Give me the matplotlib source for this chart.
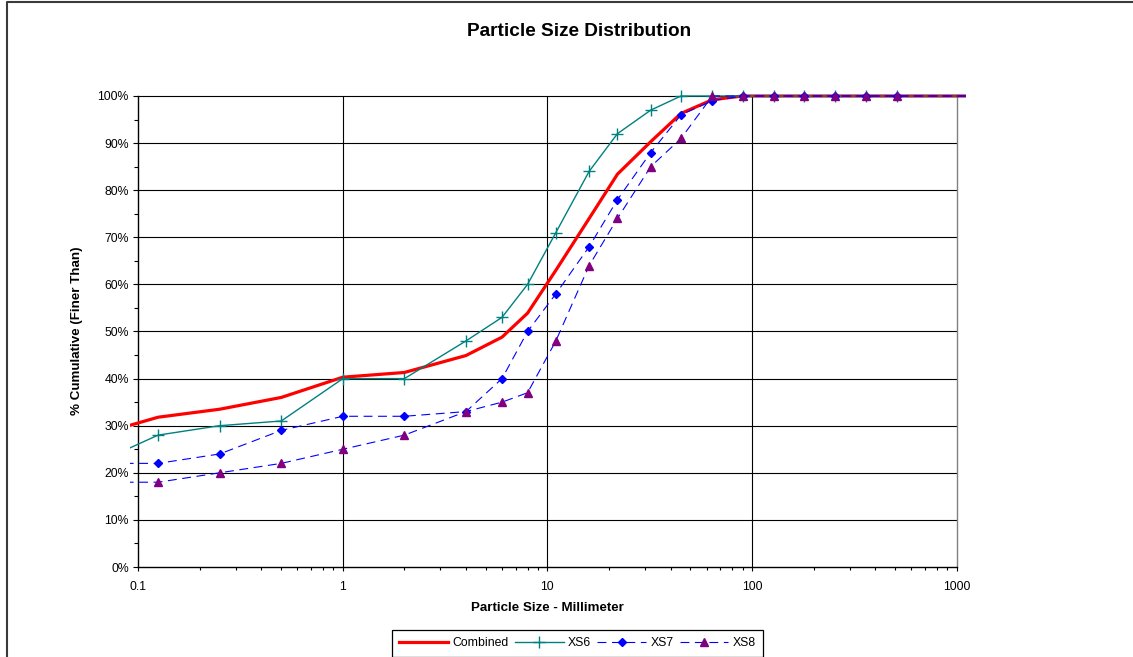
"""
Particle size distribution - cumulative % finer than, per cross-section
and the combined gradation, on a log sieve-size axis.
"""

import numpy as np
import matplotlib
matplotlib.use("Agg")
import matplotlib.pyplot as plt
import matplotlib.ticker as mtick
from matplotlib.lines import Line2D

# --- data ------------------------------------------------------------------
sizes_mm = [0.062, 0.125, 0.25, 0.5, 1, 2, 4, 6, 8, 11, 16, 22, 32, 45,
            64, 90, 128, 180, 256, 362, 512, 2048]

combined = [28, 31.8, 33.5, 36, 40.3, 41.3, 44.9, 48.8, 53.9, 63, 74, 83.4,
            90.3, 96.3, 99.2, 100, 100, 100, 100, 100, 100, 100]
xs6 = [22, 28, 30, 31, 40, 40, 48, 53, 60, 71, 84, 92, 97, 100,
       100, 100, 100, 100, 100, 100, 100, 100]
xs7 = [22, 22, 24, 29, 32, 32, 33, 40, 50, 58, 68, 78, 88, 96,
       99, 100, 100, 100, 100, 100, 100, 100]
xs8 = [18, 18, 20, 22, 25, 28, 33, 35, 37, 48, 64, 74, 85, 91,
       100, 100, 100, 100, 100, 100, 100, 100]

decades = [0.1, 1, 10, 100, 1000]
decade_labels = ["0.1", "1", "10", "100", "1000"]
pct_ticks = list(range(0, 101, 10))

# --- figure ----------------------------------------------------------------
W, H = 1133, 657
plt.rcParams["font.family"] = ["Liberation Sans", "DejaVu Sans"]

fig = plt.figure(figsize=(W / 100, H / 100), dpi=100)

# plot area in pixels (series run a little past the 0.1 / 1000 axis ends)
x0_px, x1_px, y0_px = 130, 966.5, 567
px_per_pct = 4.71
ymax = 102
ax = fig.add_axes([x0_px / W, 1 - y0_px / H,
                   (x1_px - x0_px) / W, ymax * px_per_pct / H])

ax.set_xscale("log")
ax.set_xlim(0.0911, 1119)
ax.set_ylim(0, ymax)

# grid, drawn only inside the 0.1-1000 / 0-100 frame
ax.hlines(pct_ticks[1:], 0.1, 1000, colors="black", linewidth=0.8, zorder=1)
ax.vlines(decades[1:-1], 0, 100, colors="black", linewidth=0.8, zorder=1)
ax.vlines(decades[-1], 0, 100, colors="#808080", linewidth=1.0, zorder=1)

# series
ax.plot(sizes_mm, combined, color="red", linewidth=2.3, label="Combined",
        zorder=3)
ax.plot(sizes_mm, xs6, color="#008080", linewidth=1.0, marker="+",
        markersize=8, markeredgewidth=1.0, label="XS6", zorder=4)
ax.plot(sizes_mm, xs7, color="blue", linewidth=0.8, dashes=(8, 5),
        marker="D", markersize=4.3, markerfacecolor="blue",
        markeredgecolor="blue", label="XS7", zorder=5)
ax.plot(sizes_mm, xs8, color="blue", linewidth=0.8, dashes=(8, 5),
        marker="^", markersize=5.6, markerfacecolor="#800080",
        markeredgecolor="#800080", label="XS8", zorder=6)

# axes lines
for side in ("top", "right"):
    ax.spines[side].set_visible(False)
ax.spines["left"].set_position(("data", 0.1))
ax.spines["left"].set_bounds(0, 100)
ax.spines["bottom"].set_bounds(0.1, 1000)
for side in ("left", "bottom"):
    ax.spines[side].set_linewidth(1.0)
    ax.spines[side].set_zorder(2)

ax.set_xticks(decades)
ax.set_xticklabels(decade_labels)
ax.xaxis.set_minor_locator(mtick.LogLocator(base=10, subs=np.arange(2, 10)))
ax.xaxis.set_minor_formatter(mtick.NullFormatter())
ax.tick_params(axis="x", which="major", direction="out", length=3,
               width=0.8, pad=7, labelsize=8.8)
ax.tick_params(axis="x", which="minor", direction="out", length=2.5,
               width=0.8)

ax.set_yticks(pct_ticks)
ax.yaxis.set_major_formatter(mtick.PercentFormatter(decimals=0))
ax.yaxis.set_minor_locator(mtick.FixedLocator(list(range(5, 100, 10))))
ax.tick_params(axis="y", which="major", direction="out", length=3.8,
               width=0.8, pad=3, labelsize=8.8)
ax.tick_params(axis="y", which="minor", direction="out", length=3,
               width=0.8)

# x label centred on the 0.1-1000 span
lo, hi = np.log10(ax.get_xlim())
ax.set_xlabel("Particle Size - Millimeter", fontsize=9.6, fontweight="bold")
ax.xaxis.set_label_coords((1 - lo) / (hi - lo), -(608 - y0_px) / (ymax * px_per_pct),
                          transform=ax.transAxes)
ax.xaxis.label.set_va("center")

fig.text(77 / W, 1 - 331 / H, "% Cumulative (Finer Than)", rotation=90,
         ha="center", va="center", fontsize=9.6, fontweight="bold")
fig.text(579 / W, 1 - 32 / H, "Particle Size Distribution",
         ha="center", va="center", fontsize=13.7, fontweight="bold")

leg = fig.legend(loc="upper center", bbox_to_anchor=(577.5 / W, 1 - 630 / H),
                 ncol=4, fontsize=8.8, frameon=True, fancybox=False,
                 edgecolor="black", framealpha=1, handlelength=4.0,
                 handletextpad=0.35, columnspacing=0.5, borderpad=0.6,
                 borderaxespad=0)
leg.get_frame().set_linewidth(0.9)

# chart area border (left and top edges)
bx, by = 7 / W, 1 - 2 / H
fig.add_artist(Line2D([bx, bx, 1], [0, by, by], transform=fig.transFigure,
                      color="#3a3a3a", linewidth=1.5))

fig.savefig("out.png", dpi=100)
